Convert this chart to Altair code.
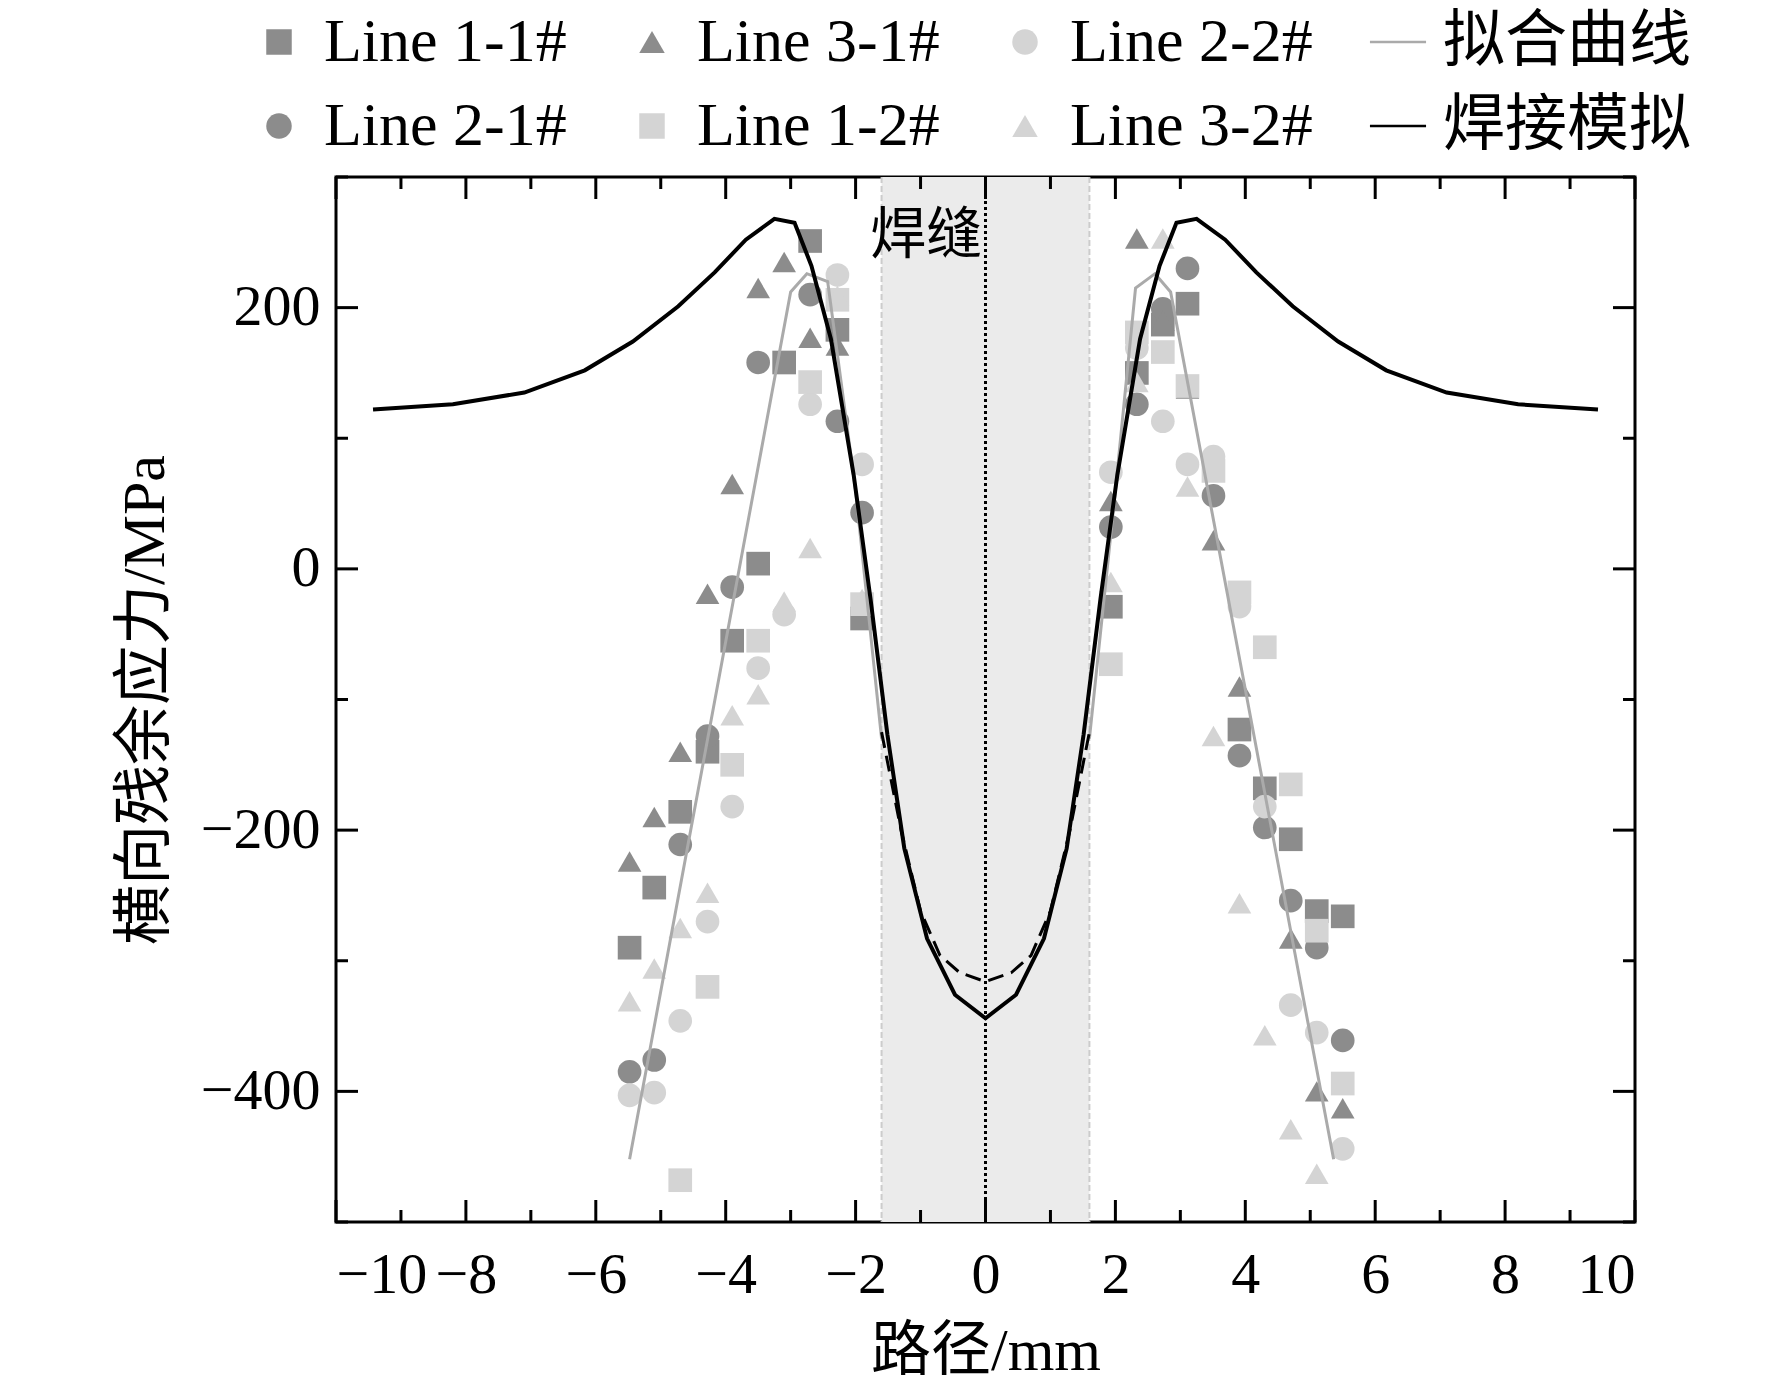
import altair as alt
import pandas as pd

FONT = "Liberation Serif, Noto Sans CJK SC"

l11_x = [-5.48,-5.1,-4.7,-4.28,-3.9,-3.5,-3.1,-2.7,-2.28,-1.9,1.93,2.33,2.73,3.11,3.91,4.3,4.7,5.1,5.5]
l11_y = [-290,-244,-186,-140,-55,4,158,251,183,-38,-29,150,187,203,-123,-168,-207,-262,-266]
l21_x = [-5.48,-5.1,-4.7,-4.28,-3.9,-3.5,-2.7,-2.28,-1.9,1.93,2.33,2.73,3.11,3.51,3.91,4.3,4.7,5.1,5.5]
l21_y = [-385,-376,-211,-128,-14,158,210,113,43,32,126,199,230,56,-143,-198,-254,-290,-361]
l31_x = [-5.48,-5.1,-4.7,-4.28,-3.9,-3.5,-3.1,-2.7,-2.28,1.93,2.33,2.73,3.11,3.51,3.91,4.7,5.1,5.5]
l31_y = [-224,-190,-140,-19,65,215,235,177,171,52,253,190,138,22,-90,-283,-400,-413]
l22_x = [-5.48,-5.1,-4.7,-4.28,-3.9,-3.5,-3.1,-2.7,-2.28,-1.9,1.93,2.33,2.73,3.11,3.51,3.91,4.3,4.7,5.1,5.5]
l22_y = [-403,-401,-346,-270,-182,-76,-35,126,225,80,74,169,113,80,86,-29,-182,-334,-355,-444]
l12_x = [-4.7,-4.28,-3.9,-3.5,-2.7,-2.28,-1.9,1.93,2.33,2.73,3.11,3.51,3.91,4.3,4.7,5.1,5.5]
l12_y = [-468,-320,-150,-55,143,206,-27,-73,181,166,140,75,-18,-60,-165,-277,-394]
l32_x = [-5.48,-5.1,-4.7,-4.28,-3.9,-3.5,-3.1,-2.7,-2.28,-1.9,1.93,2.33,2.73,3.11,3.51,3.91,4.3,4.7,5.1]
l32_y = [-331,-306,-275,-248,-112,-96,-25,16,209,-23,-10,143,253,63,-128,-256,-357,-429,-463]

fitL_x = [-5.48,-3.0,-2.75,-2.43,-2.0,-1.6]
fitL_y = [-452,212,226,220,60,-130]
fitR_x = [1.6,2.0,2.31,2.61,2.85,5.36]
fitR_y = [-130,60,215,226,212,-452]

sim_x = [-9.43,-8.2,-7.1,-6.17,-5.43,-4.73,-4.17,-3.69,-3.25,-2.94,-2.68,-2.38,-2.03,-1.77,-1.51,-1.25,-0.9,-0.47,0,
         0.47,0.9,1.25,1.51,1.77,2.03,2.38,2.68,2.94,3.25,3.69,4.17,4.73,5.43,6.17,7.1,8.2,9.43]
sim_y_half = [122,126,135,152,174,201,227,252,268,265,232,176,72,-23,-127,-214,-283,-326]
sim_y = sim_y_half + [-344] + sim_y_half[::-1]

dash_x = [-1.6,-1.3,-1.0,-0.7,-0.4,0,0.4,0.7,1.0,1.3,1.6]
dash_y = [-125,-200,-262,-296,-309,-316,-309,-296,-262,-200,-125]

weld = [-1.6, 1.6]

# legend fills column by column (2 rows)
series = ["Line 1-1#","Line 2-1#","Line 3-1#","Line 1-2#","Line 2-2#","Line 3-2#","拟合曲线","焊接模拟"]
DARK, LIGHT = "#8c8c8c", "#d4d4d4"
colors = [DARK, DARK, DARK, LIGHT, LIGHT, LIGHT, "#aaaaaa", "#000000"]
LINESYM = "M-2.2,-0.1H2.2V0.1H-2.2Z"
shapes = ["square","circle","triangle-up","square","circle","triangle-up",LINESYM,LINESYM]

rows = []
for name, xs_, ys_ in [("Line 1-1#",l11_x,l11_y),("Line 2-1#",l21_x,l21_y),("Line 3-1#",l31_x,l31_y),
                       ("Line 2-2#",l22_x,l22_y),("Line 1-2#",l12_x,l12_y),("Line 3-2#",l32_x,l32_y)]:
    for a, b in zip(xs_, ys_):
        rows.append({"x": a, "y": b, "s": name})
pts = pd.DataFrame(rows)

xs = alt.Scale(domain=[-10, 10], nice=False)
ys = alt.Scale(domain=[-500, 300], nice=False)
cs = alt.Scale(domain=series, range=colors)
ss = alt.Scale(domain=series, range=shapes)

band = alt.Chart(pd.DataFrame({"a": [weld[0]], "b": [weld[1]]})).mark_rect(color="#ebebeb").encode(
    x=alt.X("a:Q", scale=xs), x2="b:Q")
bandlines = alt.Chart(pd.DataFrame({"a": weld})).mark_rule(color="#cccccc", strokeDash=[6, 3], strokeWidth=2).encode(
    x=alt.X("a:Q", scale=xs))
zero = alt.Chart(pd.DataFrame({"a": [0]})).mark_rule(color="black", strokeDash=[3, 3], strokeWidth=3).encode(
    x=alt.X("a:Q", scale=xs))

leg = alt.Legend(title=None, orient="none", legendX=-88, legendY=-166,
                 columns=4, direction="vertical", columnPadding=54, rowPadding=22, labelFontSize=62, labelFont=FONT,
                 symbolSize=650, symbolStrokeWidth=0, labelLimit=400, labelColor="black", labelOffset=14)
MINUS = "replace(format(datum.value, 'd'), '-', '\u2212')"
points = alt.Chart(pts).mark_point(filled=True, size=560, opacity=1).encode(
    x=alt.X("x:Q", scale=xs, axis=alt.Axis(values=list(range(-10, 11, 2)), title="路径/mm", labelExpr=MINUS)),
    y=alt.Y("y:Q", scale=ys, axis=alt.Axis(values=[-400, -200, 0, 200], title="横向残余应力/MPa", labelExpr=MINUS)),
    color=alt.Color("s:N", scale=cs, legend=leg),
    shape=alt.Shape("s:N", scale=ss, legend=leg),
)

fit = pd.DataFrame({"x": fitL_x + fitR_x, "y": fitL_y + fitR_y, "g": ["L"] * len(fitL_x) + ["R"] * len(fitR_x),
                    "o": list(range(len(fitL_x) + len(fitR_x)))})
fitline = alt.Chart(fit).mark_line(color="#aaaaaa", strokeWidth=3).encode(
    x=alt.X("x:Q", scale=xs), y=alt.Y("y:Q", scale=ys), detail="g:N", order="o:Q")
sim = pd.DataFrame({"x": sim_x, "y": sim_y, "o": list(range(len(sim_x)))})
simline = alt.Chart(sim).mark_line(color="black", strokeWidth=4).encode(
    x=alt.X("x:Q", scale=xs), y=alt.Y("y:Q", scale=ys), order="o:Q")
dsh = pd.DataFrame({"x": dash_x, "y": dash_y, "o": list(range(len(dash_x)))})
dashline = alt.Chart(dsh).mark_line(color="black", strokeWidth=3, strokeDash=[16, 8]).encode(
    x=alt.X("x:Q", scale=xs), y=alt.Y("y:Q", scale=ys), order="o:Q")

label = alt.Chart(pd.DataFrame({"x": [-0.05], "y": [255], "t": ["焊缝"]})).mark_text(
    fontSize=56, font=FONT, align="right", baseline="middle").encode(
    x=alt.X("x:Q", scale=xs), y=alt.Y("y:Q", scale=ys), text="t:N")

# inward ticks
xt = pd.DataFrame({"v": list(range(-10, 11)), "L": [22 if v % 2 == 0 else 12 for v in range(-10, 11)]})
yt = pd.DataFrame({"v": list(range(-500, 301, 100)), "L": [22 if v % 200 == 0 else 12 for v in range(-500, 301, 100)]})
H, W = 1045, 1299

def xticks(df, y0, y1):
    return alt.Chart(df).mark_rule(color="black", strokeWidth=3).encode(
        x=alt.X("v:Q", scale=xs), y=alt.value(y0), y2=alt.value(y1))

def yticks(df, x0, x1):
    return alt.Chart(df).mark_rule(color="black", strokeWidth=3).encode(
        y=alt.Y("v:Q", scale=ys), x=alt.value(x0), x2=alt.value(x1))

maj_x, min_x = xt[xt.L == 22], xt[xt.L == 12]
maj_y, min_y = yt[yt.L == 22], yt[yt.L == 12]
ticks = [xticks(maj_x, H, H - 22), xticks(min_x, H, H - 12), xticks(maj_x, 0, 22), xticks(min_x, 0, 12),
         yticks(maj_y, 0, 22), yticks(min_y, 0, 12), yticks(maj_y, W, W - 22), yticks(min_y, W, W - 12)]

chart = alt.layer(band, bandlines, zero, points, fitline, simline, dashline, label, *ticks).properties(
    width=W, height=H, autosize=alt.AutoSizeParams(type="none"),
    padding={"left": 328, "top": 169, "right": 129, "bottom": 170},
).configure_view(stroke="black", strokeWidth=3).configure_axis(
    ticks=False, domain=False, grid=False, labelFont=FONT, titleFont=FONT, labelFontSize=58,
    titleFontSize=60, titleFontWeight="normal", labelColor="black", titleColor="black",
).configure_axisX(labelPadding=24, titlePadding=18).configure_axisY(labelPadding=16, titlePadding=24)

chart.save("out.html", embed_options={"renderer": "svg", "actions": False})
